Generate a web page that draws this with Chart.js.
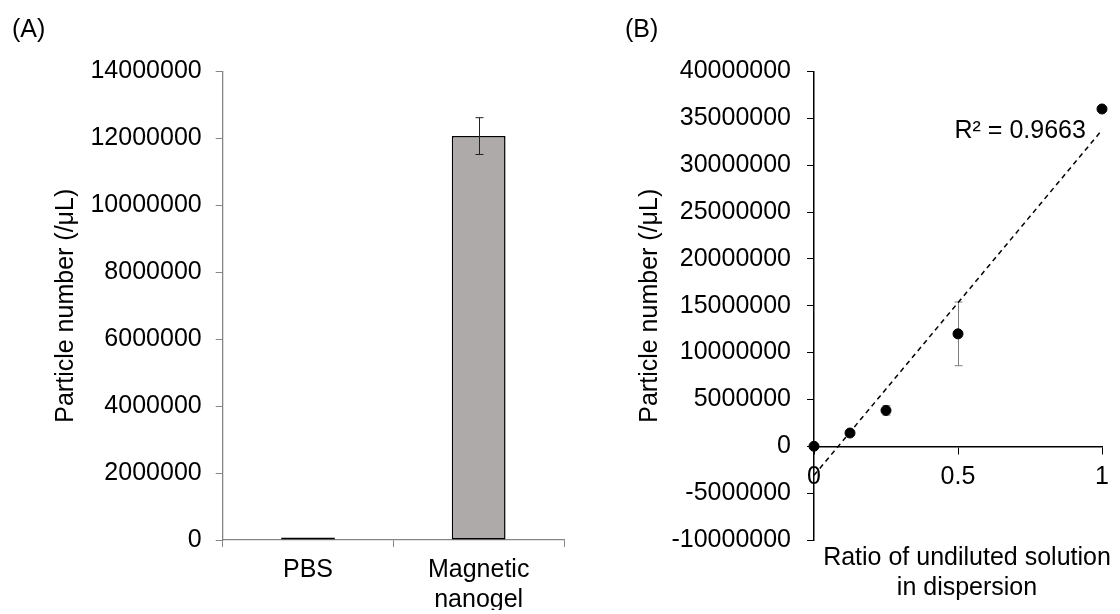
<!DOCTYPE html>
<html>
<head>
<meta charset="utf-8">
<script src="https://cdn.jsdelivr.net/npm/chart.js@4.4.1/dist/chart.umd.min.js"></script>
<style>
  body { margin: 0; background: #fff; width: 1120px; height: 614px; position: relative; overflow: hidden; }
  #wrapA { position: absolute; left: 0; top: 0; width: 600px; height: 614px; }
  #wrapB { position: absolute; left: 600px; top: 0; width: 520px; height: 614px; }
</style>
</head>
<body>
<div id="wrapA"><canvas id="chartA"></canvas></div>
<div id="wrapB"><canvas id="chartB"></canvas></div>
<script>
// (A) particle number per group
const groups = ['PBS', ['Magnetic', 'nanogel']];
const countA = [30000, 12070000];
const errA = [0, 550000];
const yMinA = 0, yMaxA = 14000000, yStepA = 2000000;

// (B) particle number vs dilution ratio
const ratio = [0, 0.125, 0.25, 0.5, 1];
const countB = [0, 1420000, 3830000, 12000000, 36000000];
const errB = [0, 200000, 500000, 3400000, 0];
const trendX = [0, 1];
const trendY = [-3100000, 33750000];
const r2Text = 'R\u00b2 = 0.9663';
const r2At = { x: 0.944, y: 33600000 };
const yMinB = -10000000, yMaxB = 40000000, yStepB = 5000000;
const xStepB = 0.5;

const FONT = "'Liberation Sans', Arial, sans-serif";
Chart.defaults.font.family = FONT;
Chart.defaults.font.size = 25;
Chart.defaults.color = '#000';

const plain = v => String(v);

// error bars drawn from the dataset's own elements and y scale
const errorBars = {
  id: 'errorBars',
  draw(chart, opts) {
    if (!opts || !opts.errors) return;
    const meta = chart.getDatasetMeta(0);
    const y = chart.scales.y;
    const ctx = chart.ctx;
    ctx.save();
    ctx.strokeStyle = opts.color;
    ctx.lineWidth = 1;
    opts.values.forEach((v, i) => {
      const e = opts.errors[i];
      if (!e) return;
      const px = Math.round(meta.data[i].x) + 0.5;
      const top = y.getPixelForValue(v + e);
      const bot = y.getPixelForValue(v - e);
      ctx.beginPath();
      ctx.moveTo(px, top); ctx.lineTo(px, bot);
      ctx.moveTo(px - opts.cap, top); ctx.lineTo(px + opts.cap, top);
      ctx.moveTo(px - opts.cap, bot); ctx.lineTo(px + opts.cap, bot);
      ctx.stroke();
    });
    ctx.restore();
  },
  beforeDatasetsDraw(chart, args, opts) { if (opts.behind) this.draw(chart, opts); },
  afterDatasetsDraw(chart, args, opts) { if (!opts.behind) this.draw(chart, opts); }
};

// panel letters and free text
const labels = {
  id: 'labels',
  afterDraw(chart, args, opts) {
    const ctx = chart.ctx;
    ctx.save();
    ctx.fillStyle = '#000';
    ctx.font = '25px ' + FONT;
    ctx.textBaseline = 'middle';
    (opts.items || []).forEach(it => {
      const p = it.at(chart);
      ctx.textAlign = it.align || 'left';
      ctx.fillText(it.text, p.x, p.y);
    });
    ctx.restore();
  }
};

new Chart(document.getElementById('chartA'), {
  type: 'bar',
  data: {
    labels: groups,
    datasets: [{
      data: countA,
      backgroundColor: '#aeaaaa',
      borderColor: '#000',
      borderWidth: 1.5,
      borderSkipped: false,
      minBarLength: 2.5,
      barPercentage: 0.315,
      categoryPercentage: 1
    }]
  },
  options: {
    responsive: true,
    maintainAspectRatio: false,
    animation: false,
    layout: { padding: { left: 0, top: 71.5, right: 36, bottom: 4 } },
    plugins: {
      legend: { display: false },
      tooltip: { enabled: false },
      errorBars: { values: countA, errors: errA, color: '#222', cap: 4, behind: false },
      labels: { items: [{ text: '(A)', at: () => ({ x: 12, y: 30 }) }] }
    },
    scales: {
      x: {
        grid: { drawOnChartArea: false, tickLength: 7, color: '#868686', offset: true },
        border: { color: '#868686', width: 1.3 },
        ticks: { padding: 8, maxRotation: 0, autoSkip: false },
        afterFit: s => { s.height = 70; s.paddingLeft = 0; s.paddingRight = 0; }
      },
      y: {
        min: yMinA, max: yMaxA,
        ticks: { stepSize: yStepA, padding: 14, callback: plain },
        grid: { drawOnChartArea: false, tickLength: 7, color: '#868686' },
        border: { color: '#868686', width: 1.3 },
        title: { display: true, text: 'Particle number (/μL)', padding: { top: 51, bottom: 0 } },
        afterFit: s => { s.width = 222.7; s.paddingTop = 0; s.paddingBottom = 0; }
      }
    }
  },
  plugins: [errorBars, labels]
});

new Chart(document.getElementById('chartB'), {
  type: 'scatter',
  data: {
    datasets: [{
      data: ratio.map((x, i) => ({ x: x, y: countB[i] })),
      backgroundColor: '#000',
      borderColor: '#000',
      pointRadius: 5,
      pointHoverRadius: 5,
      showLine: false,
      clip: false,
      order: 1
    }, {
      type: 'line',
      data: trendX.map((x, i) => ({ x: x, y: trendY[i] })),
      borderColor: '#000',
      borderWidth: 1.5,
      borderDash: [5, 4],
      pointRadius: 0,
      fill: false,
      clip: false,
      order: 2
    }]
  },
  options: {
    responsive: true,
    maintainAspectRatio: false,
    animation: false,
    layout: { padding: { left: 0, top: 71.5, right: 18, bottom: 74 } },
    plugins: {
      legend: { display: false },
      tooltip: { enabled: false },
      errorBars: { values: countB, errors: errB, color: '#7f7f7f', cap: 4, behind: true },
      labels: {
        items: [
          { text: '(B)', at: () => ({ x: 25, y: 30 }) },
          { text: r2Text, align: 'right', at: c => ({ x: c.scales.x.getPixelForValue(r2At.x), y: c.scales.y.getPixelForValue(r2At.y) }) },
          { text: 'Ratio of undiluted solution', align: 'center', at: c => ({ x: (c.chartArea.left + c.chartArea.right) / 2 + 9, y: c.chartArea.bottom + 18 }) },
          { text: 'in dispersion', align: 'center', at: c => ({ x: (c.chartArea.left + c.chartArea.right) / 2 + 9, y: c.chartArea.bottom + 48 }) }
        ]
      }
    },
    scales: {
      x: {
        type: 'linear',
        position: { y: 0 },
        min: 0, max: 1,
        ticks: { stepSize: xStepB, padding: 9, callback: plain },
        grid: { drawOnChartArea: false, tickLength: 7, color: '#000' },
        border: { color: '#000', width: 1.5 }
      },
      y: {
        min: yMinB, max: yMaxB,
        ticks: { stepSize: yStepB, padding: 16, callback: plain },
        grid: { drawOnChartArea: false, tickLength: 7, color: '#000' },
        border: { color: '#000', width: 1.5 },
        title: { display: true, text: 'Particle number (/μL)', padding: { top: 35, bottom: 0 } },
        afterFit: s => { s.width = 214; s.paddingTop = 0; s.paddingBottom = 0; }
      }
    }
  },
  plugins: [errorBars, labels]
});
</script>
</body>
</html>
